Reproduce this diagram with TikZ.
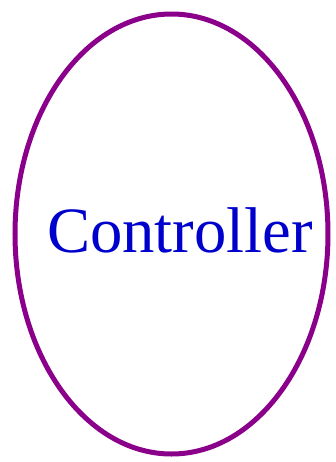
\documentclass[tikz,border=0pt]{standalone}
\usepackage{fontspec}
\setmainfont{Liberation Serif}

\tikzset{every picture/.style={line width=0.75pt}}

\begin{document}
\begin{tikzpicture}[x=0.75pt,y=0.75pt,yscale=-1,xscale=1]
\path [use as bounding box] (0,0) rectangle (336,462); %set diagram size

%Shape: Ellipse [id:dp_controller]
\draw [color={rgb, 255:red, 139; green, 0; blue, 139 }  ,draw opacity=1 ][line width=3.75pt]  (171.5,234) ellipse (156.5 and 220) ;

% Text Node
\draw (180,252) node (controller) [anchor=base] [inner sep=0.75pt] [color={rgb, 255:red, 0; green, 0; blue, 205 }  ,opacity=1 ]  {\fontsize{48.5pt}{58pt}\selectfont Controller};

\end{tikzpicture}
\end{document}
